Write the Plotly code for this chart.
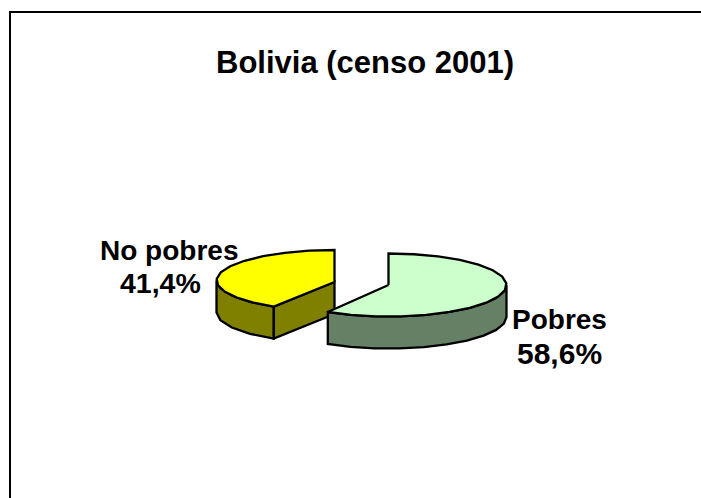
import numpy as np
import plotly.graph_objects as go

categories = ["No pobres", "Pobres"]
shares = [41.4, 58.6]
top_colors = ["#ffff00", "#ccffcc"]
side_colors = ["#808000", "#668066"]
title_text = "Bolivia (censo 2001)"
value_labels = ["41,4%", "58,6%"]

W, H = 701, 498
RX, DEPTH = 118, 32
# per-slice: ellipse centre, vertical radius, wedge apex
GEOM = {
    "Pobres": dict(c=(388.5, 285), ry=31.5, apex=(388.5, 285)),
    "No pobres": dict(c=(334.5, 280.5), ry=30.5, apex=(334.5, 282)),
}
STEP = 12.0

cut = shares[1] / 100 * 360


def pt(g, ang, dz=0):
    a = np.radians(ang)
    return g["c"][0] + RX * np.sin(a), g["c"][1] - g["ry"] * np.cos(a) + dz


def arc(g, a0, a1, dz=0):
    n = max(2, int(abs(a1 - a0) / STEP) + 1)
    ang = np.linspace(a0, a1, n)
    return pt(g, ang, dz)


def poly(fig, x, y, color):
    fig.add_trace(go.Scatter(x=list(x), y=list(y), mode="lines", fill="toself",
                             fillcolor=color, line=dict(color="black", width=2.3),
                             hoverinfo="skip", showlegend=False))


fig = go.Figure()

g = GEOM["No pobres"]
ax, ay = g["apex"]
x1, y1 = arc(g, cut, 270)
x2, y2 = arc(g, 270, cut, DEPTH)
poly(fig, np.r_[x1, x2, x1[0]], np.r_[y1, y2, y1[0]], side_colors[0])
px, py = pt(g, cut)
poly(fig, [px, ax, ax, px, px], [py, ay, ay + DEPTH, py + DEPTH, py], side_colors[0])
x1, y1 = arc(g, cut, 360)
poly(fig, np.r_[ax, x1, ax], np.r_[ay, y1, ay], top_colors[0])

g = GEOM["Pobres"]
ax, ay = g["apex"]
x1, y1 = arc(g, 90, cut)
x2, y2 = arc(g, cut, 90, DEPTH)
poly(fig, np.r_[x1, x2, x1[0]], np.r_[y1, y2, y1[0]], side_colors[1])
x1, y1 = arc(g, 0, cut)
poly(fig, np.r_[ax, x1, ax], np.r_[ay, y1, ay], top_colors[1])

fig.update_layout(
    width=W, height=H, margin=dict(l=0, r=0, t=0, b=0),
    paper_bgcolor="white", plot_bgcolor="white",
    xaxis=dict(range=[0, W], visible=False, fixedrange=True),
    yaxis=dict(range=[H, 0], visible=False, fixedrange=True),
    font=dict(family="Liberation Sans", color="black"),
    shapes=[dict(type="rect", xref="x", yref="y", x0=10, y0=12, x1=W + 30, y1=H + 30,
                 line=dict(color="black", width=2), layer="below")],
)


def label(x, y, text, size):
    fig.add_annotation(x=x, y=y, text=f"<b>{text}</b>", xref="x", yref="y", showarrow=False,
                       font=dict(size=size, family="Liberation Sans", color="black"))


label(365, 62, title_text, 31)
label(169, 250, categories[0], 28)
label(160, 283, value_labels[0], 28.5)
label(559.5, 319, categories[1], 28)
label(559.5, 353, value_labels[1], 30)

fig.write_html("out.html", config=dict(displayModeBar=False),
               post_script="document.body.style.margin='0';document.body.style.overflow='hidden';")
